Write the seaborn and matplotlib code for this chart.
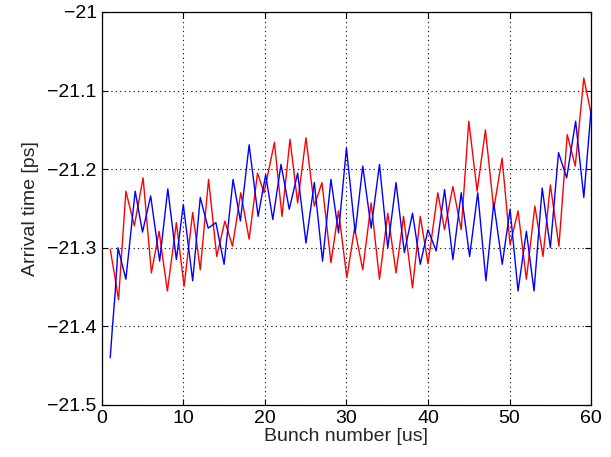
import numpy as np
import pandas as pd
import matplotlib
matplotlib.use("Agg")
import matplotlib.pyplot as plt
import seaborn as sns

# peaks / troughs
blue_x = [1.04, 1.32, 1.65, 2.0, 2.96, 4.1, 5.0, 6.0, 7.1, 8.1, 9.15, 10.0, 11.15, 12.08,
          13.05, 14.0, 15.0, 16.1, 17.0, 18.07, 19.17, 20.1, 20.97, 21.98, 22.99, 24.02,
          25.04, 26.06, 27.07, 28.1, 29.03, 30.0, 31.07, 32.0, 33.03, 34.05, 35.07, 36.08,
          37.1, 38.1, 39.05, 40.0, 41.0, 42.03, 43.05, 44.07, 45.1, 46.1, 47.1, 48.06,
          49.1, 50.06, 51.04, 52.06, 53.0, 54.0, 55.0, 56.0, 57.0, 58.1, 59.1, 60.0]
blue_y = [-21.44, -21.40, -21.357, -21.30, -21.34, -21.228, -21.28, -21.234, -21.317,
          -21.225, -21.315, -21.245, -21.342, -21.236, -21.275, -21.268, -21.321, -21.213,
          -21.266, -21.169, -21.26, -21.207, -21.264, -21.194, -21.251, -21.205, -21.294,
          -21.217, -21.317, -21.213, -21.281, -21.173, -21.281, -21.196, -21.275, -21.194,
          -21.30, -21.217, -21.306, -21.256, -21.321, -21.277, -21.304, -21.226, -21.315,
          -21.23, -21.311, -21.23, -21.342, -21.243, -21.321, -21.251, -21.355, -21.279,
          -21.355, -21.224, -21.30, -21.179, -21.211, -21.139, -21.236, -21.124]

red_x = [1.04, 1.5, 2.06, 2.96, 4.0, 5.07, 6.09, 7.03, 8.05, 9.15, 10.1, 11.15, 12.08,
         13.1, 14.1, 15.1, 16.03, 17.05, 18.07, 19.1, 19.9, 21.17, 22.1, 23.08, 24.02,
         25.04, 26.06, 27.0, 28.1, 29.03, 30.05, 31.0, 32.0, 33.03, 34.05, 35.07, 36.08,
         37.0, 38.1, 39.05, 40.0, 41.2, 42.03, 43.05, 44.07, 45.0, 46.02, 47.04, 48.06,
         49.08, 50.06, 51.04, 52.06, 53.1, 54.1, 55.0, 56.05, 57.07, 58.05, 59.1, 60.0]
red_y = [-21.302, -21.33, -21.366, -21.228, -21.272, -21.211, -21.332, -21.279, -21.355,
         -21.268, -21.349, -21.255, -21.328, -21.213, -21.311, -21.266, -21.298, -21.23,
         -21.289, -21.205, -21.23, -21.166, -21.26, -21.162, -21.243, -21.16, -21.247,
         -21.217, -21.319, -21.253, -21.338, -21.275, -21.328, -21.243, -21.34, -21.256,
         -21.332, -21.26, -21.351, -21.26, -21.32, -21.23, -21.277, -21.222, -21.277,
         -21.139, -21.228, -21.15, -21.251, -21.186, -21.296, -21.253, -21.34, -21.247,
         -21.311, -21.22, -21.298, -21.156, -21.196, -21.084, -21.13]

x_ticks = [0, 10, 20, 30, 40, 50, 60]
y_ticks = [-21.5, -21.4, -21.3, -21.2, -21.1, -21.0]
y_ticklabels = ["\u221221.5", "\u221221.4", "\u221221.3", "\u221221.2", "\u221221.1", "\u221221"]

sns.set_style("ticks")
plt.rcParams["font.family"] = ["Liberation Sans", "DejaVu Sans"]

fig = plt.figure(figsize=(6.11, 4.57), dpi=100)
ax = fig.add_axes([0.1665, 0.1138, 0.801, 0.860])

red_df = pd.DataFrame({"x": red_x, "y": red_y})
blue_df = pd.DataFrame({"x": blue_x, "y": blue_y})
sns.lineplot(data=red_df, x="x", y="y", color="#ff0000", lw=1.0, sort=False, ax=ax)
sns.lineplot(data=blue_df, x="x", y="y", color="#0000ff", lw=1.0, sort=False, ax=ax)

ax.set_xlim(0, 60)
ax.set_ylim(-21.5, -21.0)
ax.set_xticks(x_ticks)
ax.set_yticks(y_ticks)
ax.set_yticklabels(y_ticklabels)
ax.grid(True, color="black", linestyle=(0, (1, 3)), linewidth=0.8)
ax.tick_params(direction="in", length=4, width=0.8, labelsize=14,
               top=True, right=True, colors="black")
for s in ax.spines.values():
    s.set_linewidth(0.9)
    s.set_color("black")

ax.set_xlabel("Bunch number [us]", fontsize=14, labelpad=1)
ax.set_ylabel("Arrival time [ps]", fontsize=14, labelpad=6)

fig.savefig("out.png", dpi=100)
